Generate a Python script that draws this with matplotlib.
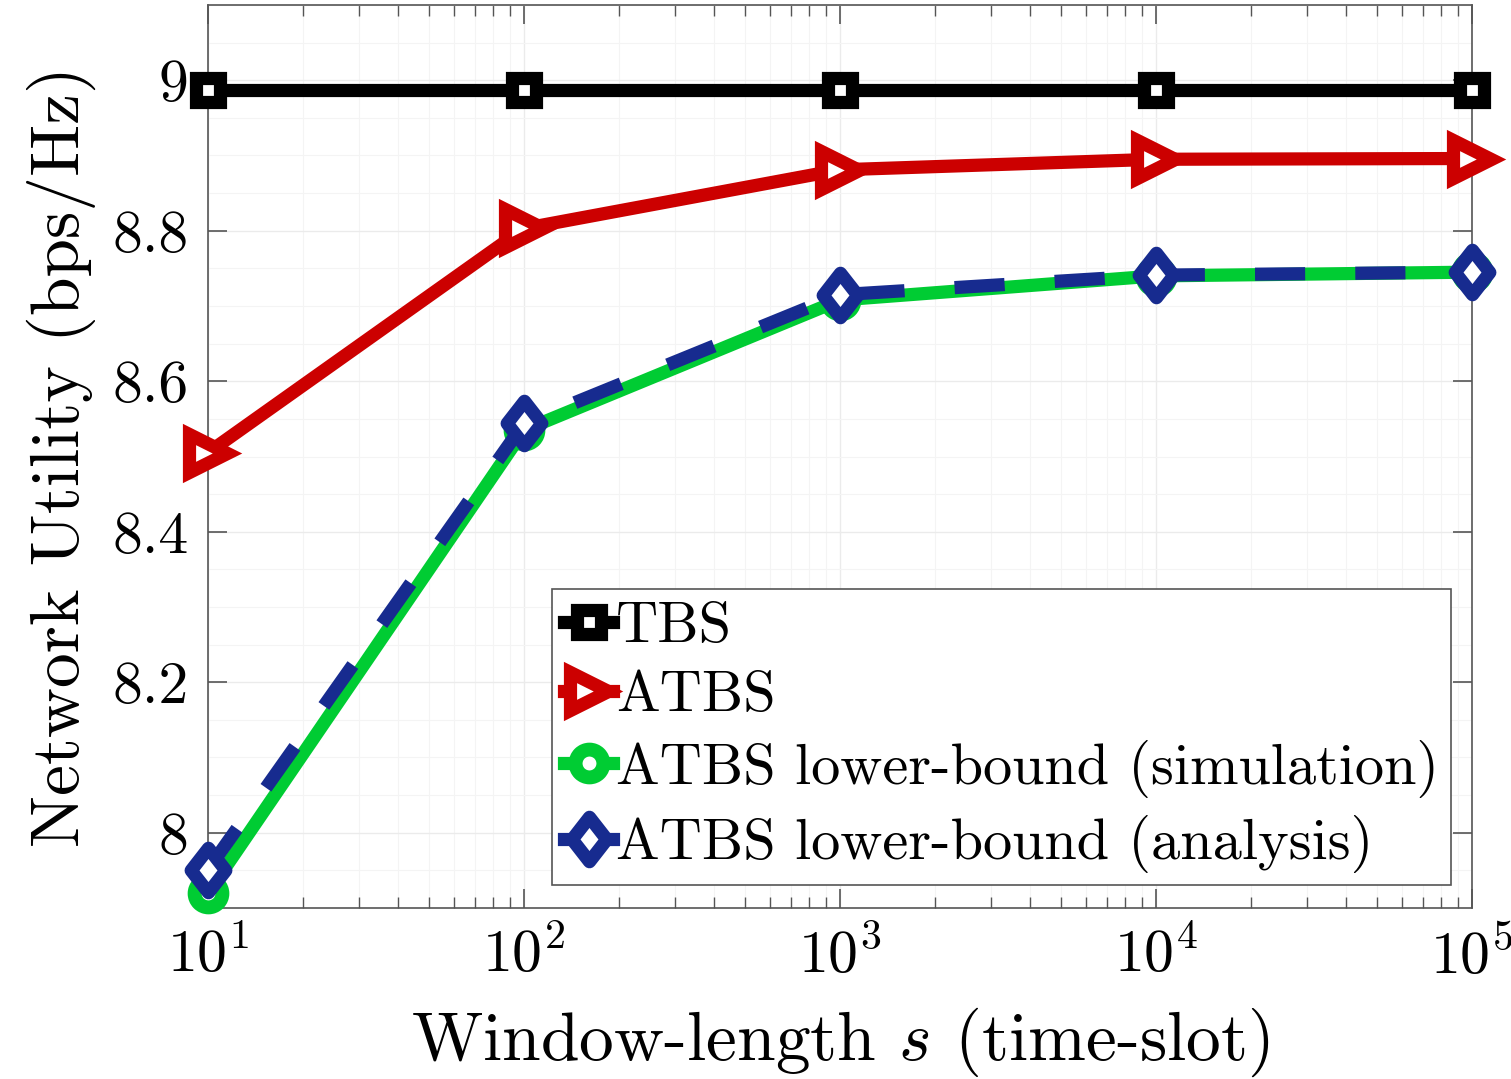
import numpy as np
import matplotlib.pyplot as plt
from matplotlib.path import Path
from matplotlib.ticker import FixedLocator, MultipleLocator, LogLocator, NullFormatter

# window lengths
windowLen = [1e1, 1e2, 1e3, 1e4, 1e5]

# network utility (bps/Hz)
tbs = [8.987, 8.987, 8.987, 8.987, 8.987]
atbs = [8.505, 8.803, 8.881, 8.895, 8.896]
lbSim = [7.92, 8.535, 8.708, 8.740, 8.745]
lbAna = [7.951, 8.544, 8.715, 8.741, 8.745]

labels = ["TBS", "ATBS", "ATBS lower-bound (simulation)", "ATBS lower-bound (analysis)"]


def main():
    plt.rcParams['font.family'] = 'cmr10'
    plt.rcParams['mathtext.fontset'] = 'cm'
    plt.rcParams['axes.formatter.use_mathtext'] = True

    fig = plt.figure(figsize=(15.11, 10.79), dpi=100)
    ax = fig.add_axes([208 / 1511, 1 - 908 / 1079, (1472 - 208) / 1511, (908 - 5) / 1079])

    # matlab-ish diamond, taller than wide
    diamond = Path([(0, 1), (0.78, 0), (0, -1), (-0.78, 0), (0, 1)],
                   [Path.MOVETO, Path.LINETO, Path.LINETO, Path.LINETO, Path.CLOSEPOLY])

    lw = 9.5
    ax.plot(windowLen, tbs, color='black', lw=lw, marker='s', ms=17, mew=9.5,
            mfc='white', mec='black', label=labels[0], zorder=3, clip_on=False)
    ax.plot(windowLen, atbs, color='#cc0000', lw=lw, marker='>', ms=28, mew=9.5,
            mfc='white', mec='#cc0000', label=labels[1], zorder=3, clip_on=False)
    ax.plot(windowLen, lbSim, color='#00cc33', lw=lw, marker='o', ms=20, mew=10,
            mfc='white', mec='#00cc33', label=labels[2], zorder=3, clip_on=False)
    ax.plot(windowLen, lbAna, color='#172b8f', lw=lw, marker=diamond, ms=32, mew=9.5,
            mfc='white', mec='#172b8f', dashes=(3.8, 3.8), label=labels[3], zorder=4,
            clip_on=False)

    ax.set_xscale('log')
    ax.set_xlim(10, 1e5)
    ax.set_ylim(7.9, 9.1)
    ax.yaxis.set_major_locator(FixedLocator([8, 8.2, 8.4, 8.6, 8.8, 9]))
    ax.set_yticklabels(['8', '8.2', '8.4', '8.6', '8.8', '9'])
    ax.yaxis.set_minor_locator(MultipleLocator(0.05))
    ax.xaxis.set_minor_locator(LogLocator(base=10, subs=np.arange(2, 10)))
    ax.xaxis.set_minor_formatter(NullFormatter())

    ax.grid(True, which='major', color='#ebebeb', lw=1)
    ax.grid(True, which='minor', color='#f4f4f4', lw=0.8)
    ax.set_axisbelow(True)

    ax.tick_params(which='both', direction='in', top=True, right=True, color='#555555')
    ax.tick_params(which='major', length=14, width=1.2, labelsize=43, pad=14)
    ax.tick_params(axis='y', which='minor', length=0)
    ax.tick_params(axis='x', which='minor', length=8, width=1.0)
    for sp in ax.spines.values():
        sp.set_color('#555555')
        sp.set_linewidth(1.2)

    ax.set_xlabel('Window-length $s$ (time-slot)', fontsize=50, labelpad=14)
    ax.set_ylabel('Network Utility (bps/Hz)', fontsize=50, labelpad=12)

    leg = ax.legend(loc='lower right', bbox_to_anchor=(1451 / 1511, 1 - 885 / 1079),
                    bbox_transform=fig.transFigure, fontsize=42, handlelength=0.85,
                    handletextpad=0.05, borderpad=0.2, labelspacing=0.3,
                    fancybox=False, framealpha=1, edgecolor='#555555',
                    borderaxespad=0, markerscale=1.0)
    leg.get_frame().set_linewidth(1.2)
    for h in leg.legend_handles:
        h.set_linestyle('-')

    fig.savefig('out.png', dpi=100)


main()
